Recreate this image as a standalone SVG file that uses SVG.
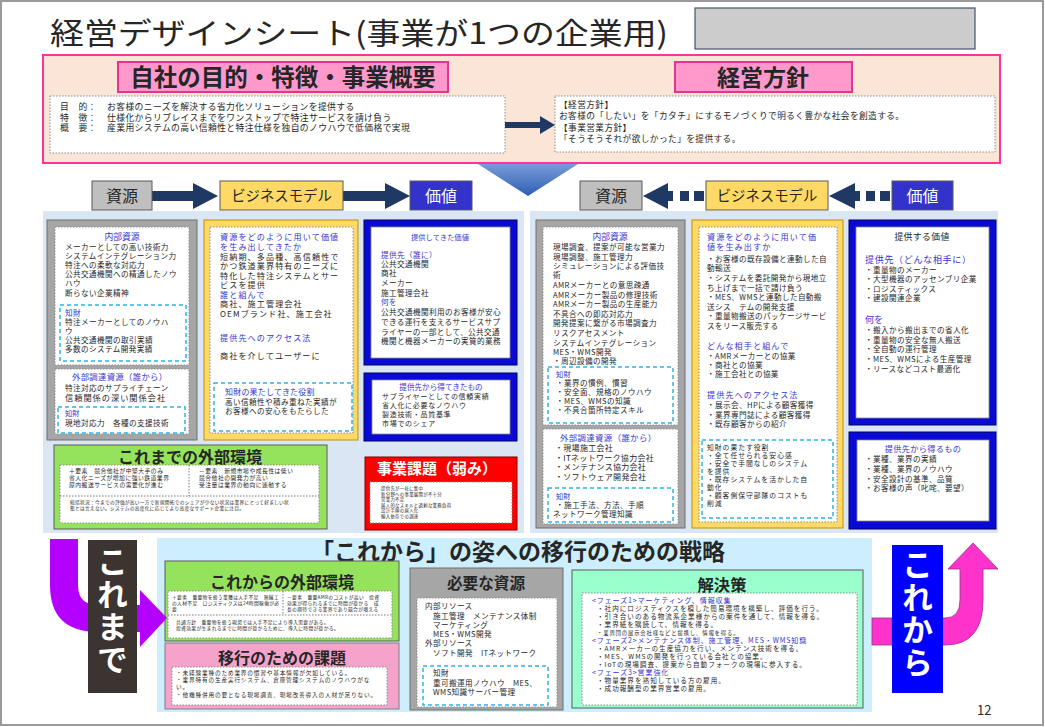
<svg xmlns="http://www.w3.org/2000/svg" width="1045" height="727" viewBox="0 0 1045 727">
<defs>
<linearGradient id="bgrad" x1="0" y1="0" x2="0" y2="1"><stop offset="0" stop-color="#9ab6e6"/><stop offset="1" stop-color="#2e5fb4"/></linearGradient>
</defs>
<style>
text{font-family:"Noto Sans CJK JP","Noto Sans CJK SC",sans-serif;fill:#262626}
text.bl{fill:#3535d0}
text.wt,.wt text{fill:#fff}
.bd{font-weight:700}
.mid{text-anchor:middle}
.wbox{fill:#fff;stroke:#8c8c8c;stroke-width:1;stroke-dasharray:1.5 1.5}
.dc{fill:none;stroke:#2fb3e6;stroke-width:1.5;stroke-dasharray:4 3}
.gray{fill:#a6a6a6;stroke:#6f6f6f;stroke-width:1}
.yel{fill:#ffd966;stroke:#bf9000;stroke-width:1}
.blu{fill:#0a0ad6;stroke:#00005a;stroke-width:1}
.navy{fill:#1f3864}
.hdr{stroke:#595959;stroke-width:1}
.panel{fill:#dae6f3}
.green{fill:#95e35c;stroke:#5a5a5a;stroke-width:1}
.s8{font-size:7.6px;letter-spacing:0.4px}
.s9{font-size:8.1px;letter-spacing:1.1px}
.vt{font-size:31px;font-weight:700;fill:#fff;writing-mode:vertical-rl;letter-spacing:1.5px}
</style>
<rect width="1045" height="727" fill="#fff"/>
<rect x="1" y="1" width="1042" height="724" fill="none" stroke="#9a9a9a" stroke-width="2"/>

<g id="title">
<text x="50" y="44" font-size="30" textLength="618" lengthAdjust="spacingAndGlyphs">経営デザインシート(事業が1つの企業用)</text>
<rect x="695" y="8" width="280" height="41" fill="#cccccc" stroke="#44546a" stroke-width="1.2"/>
</g>

<g id="down-arrow">
<polygon points="456,150 600,150 528,196" fill="url(#bgrad)"/>
</g>

<g id="top-section">
<rect x="43" y="55" width="957" height="108" fill="#fbe5d6" stroke="#ff3399" stroke-width="2"/>
<rect x="118" y="62" width="330" height="30" fill="#ff99cc" stroke="#e6338f" stroke-width="2"/>
<text x="283" y="86" font-size="23.5" class="bd mid">自社の目的・特徴・事業概要</text>
<rect x="50" y="96" width="455" height="57" class="wbox"/>
<g font-size="8.8" letter-spacing="0.4">
<text x="60" y="109.5">目　的：</text><text x="107" y="109.5">お客様のニーズを解決する省力化ソリューションを提供する</text>
<text x="60" y="120.5">特　徴：</text><text x="107" y="120.5">仕様化からリプレイスまでをワンストップで特注サービスを請け負う</text>
<text x="60" y="131">概　要：</text><text x="107" y="131">産業用システムの高い信頼性と特注仕様を独自のノウハウで低価格で実現</text>
</g>
<rect x="675" y="62" width="177" height="30" fill="#ff99cc" stroke="#e6338f" stroke-width="2"/>
<text x="763" y="86" font-size="23" class="bd mid">経営方針</text>
<rect x="555" y="96" width="440" height="56" class="wbox"/>
<g font-size="8.7" letter-spacing="0.4">
<text x="559" y="107.5">【経営方針】</text>
<text x="559" y="119">お客様の「したい」を「カタチ」にするモノづくりで明るく豊かな社会を創造する。</text>
<text x="559" y="130.5">【事業営業方針】</text>
<text x="559" y="142">「そうそうそれが欲しかった」を提供する。</text>
</g>
</g>

<g id="connectors">
<path class="navy" d="M505,122 L540,122 L540,116 L555,125 L540,134 L540,128 L505,128 Z"/>
<path class="navy" d="M152,191 L193,191 L193,183 L218,196 L193,209 L193,201 L152,201 Z"/>
<path class="navy" d="M343,191 L385,191 L385,183 L410,196 L385,209 L385,201 L343,201 Z"/>
<polygon class="navy" points="643,196 668,183 668,209"/>
<rect class="navy" x="667" y="191" width="6" height="10"/>
<rect class="navy" x="680" y="191" width="9" height="10"/>
<rect class="navy" x="694" y="191" width="10" height="10"/>
<polygon class="navy" points="829,196 855,183 855,209"/>
<rect class="navy" x="854" y="191" width="6" height="10"/>
<rect class="navy" x="866" y="191" width="9" height="10"/>
<rect class="navy" x="880" y="191" width="10" height="10"/>
</g>

<g id="headers">
<rect x="92" y="181" width="60" height="29" fill="#bfbfbf" class="hdr"/>
<text x="122" y="202" font-size="16" class="mid">資源</text>
<rect x="220" y="181" width="123" height="29" fill="#ffd966" class="hdr"/>
<text x="281.5" y="201" font-size="14.4" class="mid">ビジネスモデル</text>
<rect x="410" y="181" width="62" height="29" fill="#3333cc" class="hdr"/>
<text x="441" y="202" font-size="16" class="mid wt">価値</text>
<rect x="580" y="181" width="62" height="29" fill="#bfbfbf" class="hdr"/>
<text x="611" y="202" font-size="16" class="mid">資源</text>
<rect x="706" y="181" width="122" height="29" fill="#ffd966" class="hdr"/>
<text x="767" y="201" font-size="14.4" class="mid">ビジネスモデル</text>
<rect x="892" y="181" width="61" height="29" fill="#3333cc" class="hdr"/>
<text x="922.5" y="202" font-size="16" class="mid wt">価値</text>
</g>

<rect class="panel" x="43" y="211" width="481" height="322"/>
<rect class="panel" x="530" y="211" width="468" height="322"/>

<g id="past-resources">
<rect x="47" y="220" width="150" height="220" class="gray"/>
<rect x="55" y="227" width="134" height="138" class="wbox"/>
<text x="122" y="240" font-size="8.8" class="bl mid">内部資源</text>
<g class="s8">
<text x="65" y="250">メーカーとしての高い技術力</text>
<text x="65" y="259">システムインテグレーション力</text>
<text x="65" y="268">特注への柔軟な対応力</text>
<text x="65" y="277">公共交通機関への精通したノウ</text>
<text x="65" y="286">ハウ</text>
<text x="65" y="296">断らない企業精神</text>
</g>
<rect x="60" y="305" width="126" height="56" class="dc"/>
<g class="s8">
<text x="65" y="316" class="bl">知財</text>
<text x="65" y="325">特注メーカーとしてのノウハ</text>
<text x="65" y="334">ウ</text>
<text x="65" y="343">公共交通機関の取引実績</text>
<text x="65" y="352">多数のシステム開発実績</text>
</g>
<rect x="55" y="369" width="134" height="65" class="wbox"/>
<text x="72" y="380" font-size="8.4" letter-spacing="0.3" class="bl">外部調達資源（誰から）</text>
<text x="65" y="391" class="s8">特注対応のサプライチェーン</text>
<text x="65" y="401" font-size="8.2" letter-spacing="1">信頼関係の深い関係会社</text>
<rect x="58" y="407" width="127" height="26" class="dc"/>
<text x="65" y="416" font-size="7.2" class="bl">知財</text>
<text x="65" y="426" class="s8">現地対応力　各種の支援技術</text>
</g>

<g id="past-business-model">
<rect x="204" y="220" width="154" height="220" class="yel"/>
<rect x="210" y="227" width="143" height="206" class="wbox"/>
<g class="s9">
<text x="220" y="240" class="bl">資源をどのように用いて価値</text>
<text x="220" y="250" class="bl">を生み出してきたか</text>
<text x="220" y="259.5">短納期、多品種、高信頼性で</text>
<text x="220" y="269">かつ鉄道業界特有のニーズに</text>
<text x="220" y="278.5">特化した特注システムとサー</text>
<text x="220" y="288">ビスを提供</text>
<text x="220" y="297.5" class="bl">誰と組んで</text>
<text x="220" y="307">商社、施工管理会社</text>
<text x="220" y="316.5">OEMブランド社、施工会社</text>
<text x="220" y="341" class="bl">提供先へのアクセス法</text>
<text x="220" y="359">商社を介してユーザーに</text>
</g>
<rect x="214" y="383" width="138" height="48" class="dc"/>
<text x="225" y="395" font-size="8" letter-spacing="0.2" class="bl">知財の果たしてきた役割</text>
<text x="225" y="404.5" class="s8">高い信頼性や積み重ねた実績が</text>
<text x="225" y="414" class="s8">お客様への安心をもたらした</text>
</g>

<g id="past-value">
<rect x="364" y="220" width="153" height="145" class="blu"/>
<rect x="371" y="227" width="139" height="131" fill="#fff" stroke="#8c8c8c" stroke-width="0.8"/>
<text x="440" y="240" font-size="7.3" class="bl mid">提供してきた価値</text>
<g class="s8">
<text x="381" y="258" class="bl">提供先（誰に）</text>
<text x="381" y="267">公共交通機関</text>
<text x="381" y="276">商社</text>
<text x="381" y="286">メーカー</text>
<text x="381" y="296">施工管理会社</text>
<text x="381" y="305" class="bl">何を</text>
<text x="381" y="315">公共交通機関利用のお客様が安心</text>
<text x="381" y="325">できる運行を支えるサービスサプ</text>
<text x="381" y="334.5">ライヤーの一部として、公共交通</text>
<text x="381" y="344">機関と機器メーカーの実質的業務</text>
</g>
<rect x="364" y="373" width="153" height="68" class="blu"/>
<rect x="372" y="380" width="138" height="54" fill="#fff" stroke="#8c8c8c" stroke-width="0.8"/>
<text x="441" y="389.5" font-size="7.6" class="bl mid">提供先から得てきたもの</text>
<g font-size="7" letter-spacing="0.7">
<text x="382" y="398.5">サプライヤーとしての信頼実績</text>
<text x="382" y="407.5">省人化に必要なノウハウ</text>
<text x="382" y="416.5">製造技術・品質基準</text>
<text x="382" y="425.5">市場でのシェア</text>
</g>
</g>

<g id="past-environment">
<rect x="54" y="445" width="273" height="84" class="green"/>
<text x="190" y="463" font-size="16" class="bd mid">これまでの外部環境</text>
<rect x="60" y="465" width="259" height="58" class="wbox"/>
<line x1="189" y1="465" x2="189" y2="496" stroke="#555" stroke-width="0.8" stroke-dasharray="1.5 1.5"/>
<line x1="60" y1="496" x2="319" y2="496" stroke="#555" stroke-width="0.8" stroke-dasharray="1.5 1.5"/>
<g font-size="5.8" letter-spacing="0.5">
<text x="69" y="473">＋要素　競合他社が中堅大手のみ</text>
<text x="69" y="480">省人化ニーズが増加に強い鉄道業界</text>
<text x="69" y="487">屋内搬送サービスの需要化が進む</text>
<text x="199" y="473">－要素　新規市場や成長性は低い</text>
<text x="199" y="480">競合他社の開発力が高い</text>
<text x="199" y="487">受注量は業界の動向に連動する</text>
</g>
<g font-size="4.7" letter-spacing="0.3">
<text x="70" y="504">総括状況：今までの評価が高い一方で新規開拓でのシェアが少ない状況は業界にとって好ましい状</text>
<text x="70" y="510">態とは言えない。システムの高度化に応じてより高度なサポート企業に注目。</text>
</g>
</g>

<g id="past-issues">
<rect x="365" y="457" width="152" height="73" fill="#ff0000" stroke="#7f0000" stroke-width="1"/>
<text x="437" y="474" font-size="15" class="bd mid wt">事業課題（弱み）</text>
<rect x="370" y="482" width="142" height="41" class="wbox"/>
<g font-size="4.4" letter-spacing="0.3">
<text x="381" y="490">提供先が一社に集中</text>
<text x="381" y="495.5">新分野への事業展開が不十分</text>
<text x="381" y="501">営業力不足</text>
<text x="381" y="506.5">属人的なスキルと過剰な業務負荷</text>
<text x="381" y="512">設計手順の属人化</text>
<text x="381" y="517.5">輸入依存での調達</text>
</g>
</g>

<g id="future-resources">
<rect x="536" y="220" width="149" height="308" class="gray"/>
<rect x="543" y="227" width="135" height="198" class="wbox"/>
<text x="610" y="240" font-size="8.8" class="bl mid">内部資源</text>
<g class="s8">
<text x="553" y="250">現場調査、提案が可能な営業力</text>
<text x="553" y="259.5">現場調整、施工管理力</text>
<text x="553" y="269">シミュレーションによる評価技</text>
<text x="553" y="278">術</text>
<text x="553" y="288">AMRメーカーとの意思疎通</text>
<text x="553" y="297.5">AMRメーカー製品の修理技術</text>
<text x="553" y="307">AMRメーカー製品の生産能力</text>
<text x="553" y="316.5">不具合への即応対応力</text>
<text x="553" y="326">開発提案に繋がる市場調査力</text>
<text x="553" y="336">リスクアセスメント</text>
<text x="553" y="346">システムインテグレーション</text>
<text x="553" y="355">MES・WMS開発</text>
<text x="553" y="364">・周辺設備の開発</text>
</g>
<rect x="548" y="367" width="125" height="56" class="dc"/>
<g class="s8">
<text x="556" y="377" class="bl" font-size="7.2">知財</text>
<text x="556" y="386">・業界の慣例、慣習</text>
<text x="556" y="395">・安全面、規格のノウハウ</text>
<text x="556" y="404">・MES、WMSの知識</text>
<text x="556" y="413">・不具合箇所特定スキル</text>
</g>
<rect x="543" y="429" width="135" height="95" class="wbox"/>
<text x="560" y="441" font-size="8.4" letter-spacing="0.4" class="bl">外部調達資源（誰から）</text>
<g font-size="8" letter-spacing="0.3">
<text x="555" y="451">・現場施工会社</text>
<text x="555" y="460.5">・ITネットワーク協力会社</text>
<text x="555" y="470">・メンテナンス協力会社</text>
<text x="555" y="479.5">・ソフトウェア開発会社</text>
</g>
<rect x="548" y="488" width="125" height="34" class="dc"/>
<text x="556" y="498.5" font-size="7.2" class="bl">知財</text>
<text x="556" y="507.5" class="s8">・施工手法、方法、手順</text>
<text x="553" y="516.5" class="s8">ネットワーク管理知識</text>
</g>

<g id="future-business-model">
<rect x="692" y="220" width="151" height="308" class="yel"/>
<rect x="699" y="227" width="138" height="295" class="wbox"/>
<text x="707" y="240" class="s9 bl">資源をどのように用いて価</text>
<text x="707" y="250" class="s9 bl">値を生み出すか</text>
<g class="s8">
<text x="707" y="262">・お客様の既存設備と連動した自</text>
<text x="707" y="271">動輸送</text>
<text x="707" y="281">・システムを委託開発から現地立</text>
<text x="707" y="290.5">ち上げまで一括で請け負う</text>
<text x="707" y="300">・MES、WMSと連動した自動搬</text>
<text x="707" y="309.5">送シス　テムの開発支援</text>
<text x="707" y="319">・重量物搬送のパッケージサービ</text>
<text x="707" y="328.5">スをリース販売する</text>
</g>
<text x="707" y="349" class="s9 bl">どんな相手と組んで</text>
<g class="s8">
<text x="707" y="359">・AMRメーカーとの協業</text>
<text x="707" y="368">・商社との協業</text>
<text x="707" y="377">・施工会社との協業</text>
</g>
<text x="707" y="398" class="s9 bl">提供先へのアクセス法</text>
<g class="s8">
<text x="707" y="408">・展示会、HPによる顧客獲得</text>
<text x="707" y="417.5">・業界専門誌による顧客獲得</text>
<text x="707" y="427">・既存顧客からの紹介</text>
</g>
<rect x="702" y="440" width="131" height="78" class="dc"/>
<g font-size="6.8" letter-spacing="1">
<text x="707" y="450">知財の果たす役割</text>
<text x="707" y="458">・全て任せられる安心感</text>
<text x="707" y="466">・安全で手間なしのシステム</text>
<text x="707" y="474">を提供</text>
<text x="707" y="482">・既存システムを活かした自</text>
<text x="707" y="490">動化</text>
<text x="707" y="498">・顧客側保守部隊のコストも</text>
<text x="707" y="506">削減</text>
</g>
</g>

<g id="future-value">
<rect x="849" y="220" width="147" height="205" class="blu"/>
<rect x="856" y="227" width="133" height="191" fill="#fff" stroke="#8c8c8c" stroke-width="0.8"/>
<text x="922" y="240" font-size="8.8" letter-spacing="0.4" class="mid">提供する価値</text>
<text x="865" y="263" font-size="9" letter-spacing="0.7" class="bl">提供先（どんな相手に）</text>
<g class="s8">
<text x="865" y="273">・重量物のメーカー</text>
<text x="865" y="282">・大型機器のアッセンブリ企業</text>
<text x="865" y="291.5">・ロジスティックス</text>
<text x="865" y="301">・建設関連企業</text>
</g>
<text x="865" y="323" font-size="9" class="bl">何を</text>
<g class="s8">
<text x="865" y="333">・搬入から搬出までの省人化</text>
<text x="865" y="342.5">・重量物の安全な無人搬送</text>
<text x="865" y="352">・全自動の運行管理</text>
<text x="865" y="361.5">・MES、WMSによる生産管理</text>
<text x="865" y="372">・リースなどコスト最適化</text>
</g>
<rect x="849" y="432" width="147" height="97" class="blu"/>
<rect x="857" y="440" width="132" height="81" fill="#fff" stroke="#8c8c8c" stroke-width="0.8"/>
<text x="923" y="452" font-size="8.2" letter-spacing="0.3" class="bl mid">提供先から得るもの</text>
<g class="s8">
<text x="865" y="462">・業種、業界の実績</text>
<text x="865" y="472">・業種、業界のノウハウ</text>
<text x="865" y="482">・安全設計の基準、品質</text>
<text x="865" y="491">・お客様の声（叱咤、要望）</text>
</g>
</g>

<g id="strategy-panel">
<rect x="157" y="538" width="715" height="174" fill="#cdeefc"/>
<text x="518" y="560" font-size="23" class="bd mid">「これから」の姿への移行のための戦略</text>
</g>

<g id="future-environment">
<rect x="165" y="561" width="234" height="80" class="green"/>
<text x="282" y="588" font-size="16" class="bd mid">これからの外部環境</text>
<rect x="168" y="591" width="224" height="47" class="wbox"/>
<line x1="283" y1="591" x2="283" y2="615" stroke="#555" stroke-width="0.8" stroke-dasharray="1.5 1.5"/>
<line x1="168" y1="615" x2="392" y2="615" stroke="#555" stroke-width="0.8" stroke-dasharray="1.5 1.5"/>
<g font-size="4.8" letter-spacing="0.3">
<text x="172" y="599">＋要素　重量物を扱う業種は人手不足　熟練工</text>
<text x="172" y="605">の人材不足　ロジスティクスは24時間稼働が必</text>
<text x="172" y="611">要</text>
<text x="287" y="599">－要素　重量AMRのコストが高い　投資</text>
<text x="287" y="605">効果が得られるまでに時間が掛かる　成</text>
<text x="287" y="611">長の期待できる業界であり競合が増える</text>
<text x="176" y="624">共通方針　重量物を扱う現場では人手不足により導入需要がある。</text>
<text x="176" y="630">投資効果が生まれるまでに時間が掛かるために、導入に時間が掛かる。</text>
</g>
</g>

<g id="transition-issues">
<rect x="165" y="643" width="234" height="66" fill="#f5a3cb" stroke="#7f7f7f" stroke-width="1"/>
<text x="282" y="664" font-size="16" class="bd mid">移行のための課題</text>
<rect x="172" y="667" width="215" height="38" class="wbox"/>
<g font-size="5.7" letter-spacing="0.8">
<text x="176" y="675">・未経験業種のため業界の慣習や基本情報が欠如している。</text>
<text x="176" y="682">・業界特有の生産実行システム、倉庫管理システムのノウハウがな</text>
<text x="176" y="689">い。</text>
<text x="176" y="696.5">・他機種併用の要となる現場調査、現場改善導入の人材が足りない。</text>
</g>
</g>

<g id="required-resources">
<rect x="410" y="568" width="153" height="142" class="gray"/>
<text x="486" y="589" font-size="15.6" class="bd mid">必要な資源</text>
<rect x="417" y="598" width="140" height="109" class="wbox"/>
<g class="s8">
<text x="425" y="609">内部リソース</text>
<text x="433" y="619">施工管理　メンテナンス体制</text>
<text x="433" y="628">マーケティング</text>
<text x="433" y="637">MES・WMS開発</text>
<text x="425" y="646">外部リソース</text>
<text x="433" y="656">ソフト開発　ITネットワーク</text>
</g>
<rect x="423" y="666" width="125" height="39" class="dc"/>
<g class="s8">
<text x="433" y="676">知財</text>
<text x="433" y="685.5">重可搬運用ノウハウ　MES、</text>
<text x="433" y="695">WMS知識サーバー管理</text>
</g>
</g>

<g id="solutions">
<rect x="572" y="570" width="291" height="138" fill="#99ffcc" stroke="#5a5a5a" stroke-width="1"/>
<text x="722" y="591" font-size="16.3" class="bd mid">解決策</text>
<rect x="582" y="593" width="275" height="112" class="wbox"/>
<g font-size="6.6" letter-spacing="1">
<text x="592" y="603" class="bl" font-size="7" letter-spacing="0.9">&lt;フェーズ1&gt;マーケティング、情報収集</text>
<text x="597" y="611">・社内にロジスティクスを模した簡易環境を構築し、評価を行う。</text>
<text x="597" y="619">・引き合いのある物流系企業様からの案件を通して、情報を得る。</text>
<text x="597" y="627">・業界紙を購読して、情報を得る。</text>
<text x="597" y="634.5" font-size="5.4" letter-spacing="0.8">・業界団の展示会社様などと提携し、情報を得る。</text>
<text x="592" y="642.5" class="bl" font-size="7" letter-spacing="0.9">&lt;フェーズ2&gt;メンテナンス体制、施工管理、MES・WMS知識</text>
<text x="597" y="650.5">・AMRメーカーの生産協力を行い、メンテンス技術を得る。</text>
<text x="597" y="658.5">・MES、WMSの開発を行っている会社との協業。</text>
<text x="597" y="666.5">・IoTの現場調査、提案から自動フォークの現場に参入する。</text>
<text x="592" y="675" class="bl" font-size="7" letter-spacing="0.9">&lt;フェーズ3&gt;営業強化</text>
<text x="597" y="683">・物量業界を熟知している方の雇用。</text>
<text x="597" y="691">・成功報酬型の業界営業の雇用。</text>
</g>
</g>

<g id="past-arrow">
<path d="M50,539 L78,539 L78,585 Q78,605 98,605 L140,605 L140,590 L167,618 L140,647 L140,632 L98,632 Q50,632 50,585 Z" fill="#b400ff"/>
<rect x="88" y="540" width="49" height="153" fill="#3b3431"/>
<text x="112.5" y="546" class="vt">これまで</text>
</g>

<g id="future-arrow">
<rect x="872" y="618" width="20" height="27" fill="#ff33cc" stroke="#9b2d8a" stroke-width="0.8"/>
<path d="M940,618 L945,618 Q960,618 960,600 L960,569 L948,569 L973,543 L998,569 L983,569 L983,600 Q983,645 945,645 L940,645 Z" fill="#ff33cc" stroke="#9b2d8a" stroke-width="0.8"/>
<rect x="892" y="545" width="51" height="148" fill="#0000ff"/>
<text x="917.5" y="549" class="vt">これから</text>
</g>

<text x="977" y="715" font-size="13" fill="#333">12</text>
</svg>
